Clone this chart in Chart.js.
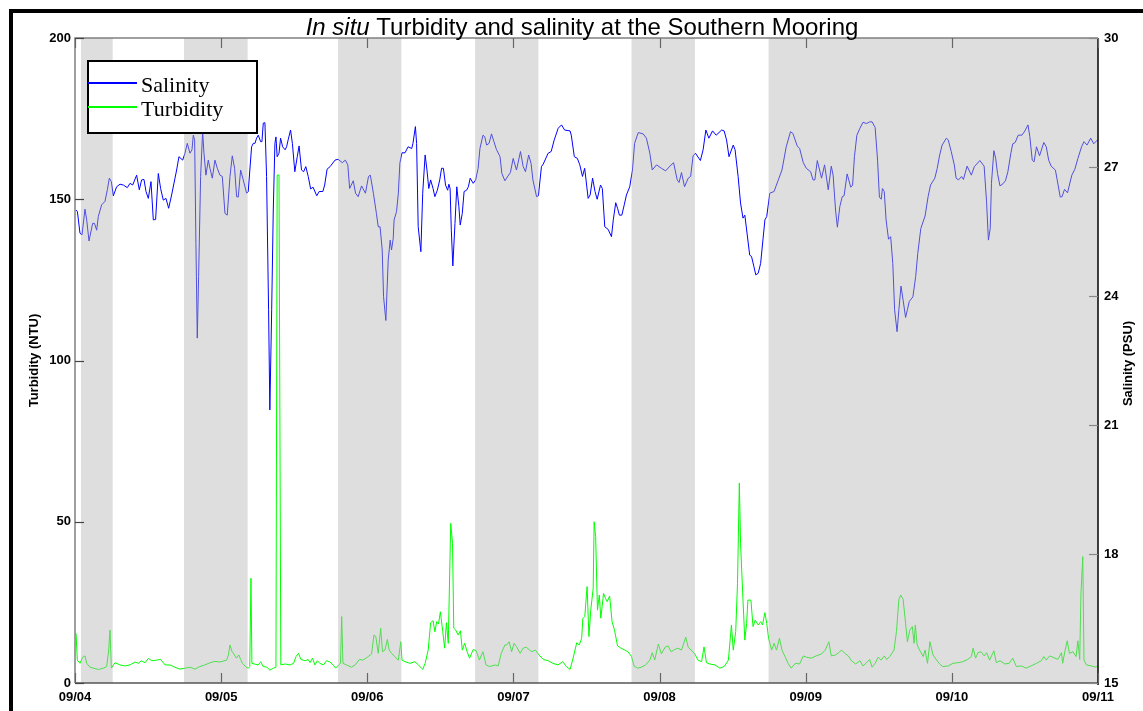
<!DOCTYPE html>
<html>
<head>
<meta charset="utf-8">
<script src="https://cdn.jsdelivr.net/npm/chart.js@4.4.1/dist/chart.umd.min.js"></script>
<style>
html,body{margin:0;padding:0;background:#fff;}
canvas{display:block;}
</style>
</head>
<body>
<canvas id="c" width="1143" height="711"></canvas>
<script>
// ---- DATA (hours since 09/04 00:00) ----
const xTickLabels = ['09/04','09/05','09/06','09/07','09/08','09/09','09/10','09/11'];
const bandStart = [0.98, 17.9, 43.2, 65.7, 91.4, 113.9];
const bandEnd   = [6.19, 28.35, 53.6, 76.1, 101.8, 168];

const salHours = [0.17,0.4,0.82,1.15,1.64,1.92,2.3,2.9,3.2,3.56,3.83,4.38,4.92,5.31,5.64,5.97,6.29,6.84,7.39,7.94,8.59,9.03,9.47,10.12,10.56,10.94,11.33,11.66,12.04,12.48,12.86,13.24,13.68,14.06,14.5,14.94,15.38,15.87,16.42,16.69,17.07,17.68,18.06,18.44,18.88,19.21,19.43,19.65,19.86,20.08,20.3,20.63,20.96,21.18,21.5,21.89,22.16,22.55,22.98,23.37,23.8,24.19,24.63,25,25.45,25.83,26.21,26.54,26.81,27.2,27.63,28.18,28.45,29,29.28,29.55,29.82,30.1,30.48,30.7,30.92,31.19,31.46,31.79,32,32.3,32.56,32.83,33,33.2,33.5,33.76,34.1,34.5,34.75,35,35.4,35.7,36.1,36.5,36.8,37.2,37.55,37.9,38.3,38.7,39.1,39.7,40.1,40.7,41,41.4,41.9,42.7,43.2,43.9,44.4,44.8,45.1,45.7,46.07,46.5,47.06,47.7,48.2,48.5,49,49.5,49.8,50.1,50.45,50.67,51.05,51.44,51.76,51.98,52.26,52.4,52.8,53.1,53.35,53.7,54.2,54.7,55.3,55.5,55.9,56.1,56.36,56.8,57.1,57.5,57.8,58.1,58.4,58.8,59.1,59.5,59.9,60.2,60.5,60.85,61.2,61.4,61.6,61.8,62.05,62.4,62.7,63.04,63.26,63.6,63.9,64.3,64.6,64.9,65.4,65.8,66.2,66.5,67,67.3,67.6,68,68.4,68.8,69.2,69.8,70.1,70.6,71.1,71.5,71.96,72.5,73.16,73.6,73.98,74.5,74.9,75.2,75.8,76.1,76.6,76.9,77.7,78.2,78.7,79.35,79.9,80.4,81.3,81.5,82,82.5,82.9,83.34,83.7,84.27,84.6,85,85.4,85.75,86.3,86.6,87,87.55,88.1,88.4,88.8,89.1,89.4,89.8,90.2,90.56,91.1,91.55,91.9,92.5,93.3,93.84,94.4,94.8,95.5,96.3,97,97.7,98.3,98.9,99.2,99.6,100.1,100.7,101.1,101.5,101.9,102.7,103.15,103.6,104.1,104.7,105.3,106.2,106.6,107,107.4,108.1,108.4,108.9,109.3,109.7,110,110.4,110.8,111.1,111.5,111.8,112.2,112.6,113,113.3,113.6,114.1,114.8,115.5,116.1,116.8,117.5,117.9,118.6,119,119.6,120.1,120.8,121.2,121.5,121.9,122.6,123.1,123.7,124.2,124.5,124.9,125.2,125.6,126,126.3,126.8,127.4,127.7,128,128.4,128.9,129.4,130,130.5,130.9,131.4,131.8,132.1,132.4,132.6,132.9,133.2,133.6,133.95,134.3,134.6,135,135.3,135.65,136,136.4,136.7,137,137.6,138.06,138.4,138.9,139.6,140.1,140.5,141.2,141.6,142,142.4,143.1,143.4,143.9,144.4,144.7,145.1,145.6,145.9,146.5,147.2,147.7,148.6,149.3,149.7,150,150.3,150.5,150.9,151.2,151.5,151.9,152.4,152.8,153.2,153.7,154,154.4,154.9,155.5,156,156.5,156.8,157.2,157.5,157.9,158.4,159.1,159.5,159.9,160.3,161,161.3,161.8,162.1,162.5,163,163.3,163.7,164.2,164.7,165.3,165.7,166.2,166.8,167.3,168];
const salValues = [26.00,25.96,25.46,25.42,26.02,25.77,25.28,25.69,25.69,25.53,25.85,26.12,26.20,26.47,26.74,26.66,26.33,26.54,26.60,26.58,26.52,26.62,26.58,26.81,26.47,26.70,26.71,26.43,26.27,26.66,25.77,25.78,26.85,26.50,26.23,26.27,26.04,26.35,26.74,26.93,27.24,27.16,27.32,27.55,27.32,27.40,27.74,27.62,25.22,23.02,24.45,26.78,27.82,27.32,26.81,27.16,26.97,26.74,27.16,26.97,26.81,26.78,25.92,25.88,26.78,27.26,26.97,26.31,26.30,26.93,26.70,26.39,26.43,27.47,27.55,27.55,27.67,27.74,27.59,27.59,28.02,28.03,26.78,23.68,21.35,23.68,26.00,27.55,27.70,27.24,27.32,27.67,27.47,27.40,27.47,27.63,27.86,27.55,26.89,27.24,27.49,26.93,26.89,27.01,26.78,26.49,26.53,26.33,26.43,26.43,26.58,26.95,27.01,27.16,27.18,27.10,27.16,27.05,26.50,26.68,26.39,26.31,26.56,26.39,26.78,26.81,26.39,25.92,25.61,25.61,25.07,23.99,23.43,24.84,25.30,25.07,25.34,25.77,25.96,26.39,27.09,27.33,27.33,27.47,27.43,27.55,27.94,27.55,25.61,25.03,26.39,27.28,26.93,26.50,26.70,26.50,26.31,26.46,26.70,26.97,26.97,26.58,26.46,26.60,26.50,25.53,24.70,25.69,26.54,26.08,25.65,25.92,26.43,26.46,26.54,26.74,26.62,26.70,26.97,27.43,27.74,27.70,27.51,27.55,27.77,27.59,27.41,27.24,26.85,26.68,26.79,26.87,27.20,26.93,27.36,27.01,26.89,27.28,27.08,26.70,26.31,26.33,27.01,27.07,27.32,27.36,27.63,27.90,27.98,27.86,27.84,27.74,27.24,27.20,27.05,26.78,26.97,26.27,26.35,26.74,26.43,26.25,26.58,26.50,25.61,25.55,25.38,25.77,26.17,26.04,25.88,25.88,26.12,26.35,26.54,26.93,27.55,27.80,27.77,27.67,27.32,26.93,27.05,26.97,26.91,27.02,27.10,26.70,26.64,26.87,26.54,26.74,26.78,27.26,27.32,27.15,27.40,27.86,27.67,27.84,27.74,27.86,27.84,27.63,27.24,27.51,27.40,26.78,26.16,25.81,25.88,25.42,24.95,24.92,24.68,24.49,24.53,24.76,25.34,25.77,25.85,26.39,26.43,26.70,26.93,27.47,27.82,27.78,27.49,27.43,27.10,26.97,26.89,26.70,26.70,27.15,26.74,27.05,26.47,27.02,26.81,26.00,25.60,26.08,26.31,26.33,26.84,26.53,26.58,27.24,27.74,27.90,28.04,28.01,28.05,28.05,27.92,27.16,26.30,26.25,26.50,26.43,25.77,25.32,25.38,24.76,23.68,23.17,23.68,24.23,23.90,23.50,23.68,23.87,23.98,24.45,24.99,25.57,25.86,26.31,26.58,26.74,26.97,27.28,27.51,27.67,27.63,27.36,27.05,26.74,26.70,26.78,26.71,27.02,26.81,27.01,27.15,27.02,26.19,25.30,25.57,26.62,27.38,27.20,26.85,26.56,26.61,26.68,26.89,27.33,27.54,27.57,27.74,27.74,27.84,27.98,27.71,27.16,27.12,27.47,27.26,27.57,27.47,27.16,27.02,26.93,26.70,26.30,26.31,26.48,26.40,26.58,26.81,26.95,27.20,27.47,27.59,27.51,27.67,27.54,27.64];

const turbHours = [0.17,0.38,0.82,1.26,1.64,1.92,2.46,3,3.83,4.65,5.2,5.53,5.75,5.97,6.57,7.39,8.2,9.03,9.85,10.4,10.9,11.5,12.04,12.6,13.4,14.06,14.8,15.6,16.4,17.2,18.1,18.9,19.7,20.5,21.3,22.2,23,23.8,24.9,25.2,25.45,25.8,26.1,26.5,26.9,27.2,27.5,28.1,28.5,28.7,28.9,29.05,29.6,30.1,30.5,30.9,31.5,32,32.6,33,33.2,33.5,33.8,34.5,35.3,35.9,36.3,36.7,37.1,37.8,38.3,38.6,39,39.4,39.8,40.2,40.8,41.3,41.8,42.4,42.8,43.3,43.6,43.8,44,44.6,45.4,46,46.7,47.3,48,48.7,49.1,49.4,49.8,50.2,50.5,50.9,51.3,51.6,52,52.5,53.1,53.5,53.7,54.2,55,55.8,56.4,57.1,57.5,58,58.4,58.8,59.1,59.4,59.7,60,60.4,60.7,61,61.3,61.7,62,62.2,62.5,62.9,63.3,63.6,64,64.4,64.8,65.4,65.9,66.4,67,67.5,68.1,69,69.5,70,70.6,70.9,71.3,71.7,72.1,72.5,73.1,73.6,74.1,75,75.6,76.2,76.9,77.7,78.5,79.3,80.1,80.7,81.3,81.8,82.4,82.8,83.2,83.4,83.72,84.1,84.4,84.7,85.1,85.25,85.5,85.8,86.1,86.35,86.8,87.1,87.4,87.8,88.2,88.6,89.1,89.6,90.3,90.8,91.4,91.8,92.4,93,93.7,94.4,94.8,95.2,95.8,96.3,96.9,97.4,97.9,98.5,99,99.6,100.3,100.7,101.2,101.8,102.3,102.9,103.3,103.7,104.2,105.1,105.9,106.6,107.3,107.8,108.1,108.5,108.8,109.1,109.3,109.7,110,110.3,110.5,111,111.35,111.7,112.2,112.6,112.9,113.3,113.6,113.9,114.4,114.8,115.2,115.7,116.1,116.6,117.1,117.6,118.3,119,119.6,120.1,120.9,121.7,122.6,123.2,123.8,124.2,124.9,125.4,125.9,126.4,127,127.5,128.2,128.9,129.4,129.9,130.5,130.9,131.4,131.9,132.4,132.9,133.3,133.8,134.5,134.9,135.3,135.6,136,136.4,136.7,137.1,137.5,137.8,138,138.3,138.7,139.3,139.6,140,140.4,140.9,141.5,142,142.5,143.4,144.2,145,145.8,146.6,147.2,147.5,147.9,148.3,148.8,149.3,149.7,150.2,150.9,151.3,151.9,152.7,153.4,154,154.6,155.4,156.2,157,157.9,158.7,159.1,159.5,160.05,160.6,161.4,162,162.2,162.6,162.95,163.3,163.9,164.4,164.7,165,165.2,165.5,165.7,166.1,166.9,167.7,168];
const turbValues = [15.4,7.1,6.1,8.0,8.4,6.1,4.9,4.6,4.2,4.6,5.1,10.2,16.4,4.6,6.3,5.6,5.3,5.6,6.5,6.1,6.9,6.3,7.6,6.9,7.1,7.3,5.6,5.6,4.9,4.3,4.6,4.9,4.3,5.1,5.6,6.3,6.7,6.5,7.1,8.7,11.8,9.7,9.0,7.7,8.7,7.3,6.1,4.9,4.6,5.1,32.5,6.1,5.8,5.6,6.6,5.1,4.9,4.0,4.6,4.9,157.5,157.5,5.6,5.9,5.6,6.1,8.2,9.2,7.3,6.9,7.3,6.3,7.7,5.6,6.9,6.1,5.6,6.9,6.6,5.6,4.6,5.6,6.1,20.6,6.1,5.6,4.9,5.6,7.3,7.1,8.0,9.0,14.9,14.4,9.2,17.0,9.7,10.2,13.5,10.2,9.2,8.2,7.1,12.8,7.1,6.6,6.1,6.6,5.6,4.2,6.1,10.2,18.7,19.3,15.9,19.0,18.3,22.1,15.9,10.8,18.7,12.3,49.5,43.3,17.0,16.5,14.9,16.2,10.2,12.3,9.7,7.7,10.4,10.0,7.1,9.7,5.6,5.1,5.6,5.3,9.2,11.8,11.8,12.8,9.7,12.3,11.3,9.2,10.8,11.1,9.7,10.2,8.7,7.3,6.9,6.1,5.6,6.6,5.1,4.2,7.7,12.5,11.8,13.8,20.0,20.6,29.9,14.4,22.6,29.4,50.0,45.4,22.6,27.3,20.1,27.8,26.3,25.2,27.0,19.0,16.4,11.5,10.9,10.2,9.7,8.2,5.3,4.6,4.9,5.6,7.1,9.4,7.1,12.1,9.0,11.1,11.5,9.7,10.4,10.8,10.2,14.2,11.1,10.2,9.0,7.1,6.6,11.2,6.3,5.9,5.6,4.6,5.1,7.1,18.0,10.2,15.9,30.9,62.0,43.3,25.7,13.3,18.5,25.7,25.7,17.5,19.5,18.0,19.0,18.0,21.8,18.5,13.9,10.2,12.3,10.2,13.9,10.2,8.2,6.1,4.6,6.1,5.9,8.4,8.0,7.7,8.4,9.0,10.2,12.8,8.4,8.7,9.4,10.2,9.2,8.4,6.9,5.9,6.9,5.3,6.1,7.3,4.9,6.1,8.0,7.1,8.4,7.3,8.2,10.2,15.9,25.9,27.3,25.9,18.5,12.8,16.4,17.5,12.3,18.0,11.8,10.2,8.2,10.2,6.1,12.8,8.7,7.1,5.9,5.1,5.3,6.1,6.3,6.6,7.3,8.2,10.8,7.7,9.4,9.7,8.4,9.4,7.1,10.0,6.3,6.9,5.9,6.1,7.7,5.1,5.3,4.6,5.3,6.1,6.9,8.2,7.1,8.4,8.0,7.3,9.4,6.1,10.2,13.1,9.2,9.7,8.2,13.1,7.3,27.8,39.2,7.1,5.6,5.3,4.9,5.6];

const TICK_FONT = {family:'"Liberation Sans", Arial, sans-serif', size:13, weight:'bold'};

const overlay = {
  id:'overlay',
  afterDatasetsDraw(chart){
    const {ctx, chartArea:a, scales} = chart;
    const x = scales.x, y = scales.y, y1 = scales.y1;
    ctx.save();
    // shaded bands (semi transparent over lines)
    ctx.fillStyle = 'rgba(180,180,180,0.44)';
    bandStart.forEach((s,i)=>{
      const x0 = x.getPixelForValue(s), x1 = x.getPixelForValue(bandEnd[i]);
      ctx.fillRect(x0, a.top, x1 - x0, a.bottom - a.top);
    });
    // frame
    ctx.lineWidth = 1.5;
    ctx.strokeStyle = '#808080';
    ctx.beginPath(); ctx.moveTo(a.left, a.bottom); ctx.lineTo(a.left, a.top); ctx.lineTo(a.right, a.top); ctx.stroke();
    ctx.strokeStyle = '#555';
    ctx.beginPath(); ctx.moveTo(a.left, a.bottom); ctx.lineTo(a.right, a.bottom); ctx.stroke();
    ctx.strokeStyle = '#000';
    ctx.beginPath(); ctx.moveTo(a.right, a.top); ctx.lineTo(a.right, a.bottom + 2); ctx.stroke();
    // inward ticks
    ctx.lineWidth = 1.2;
    ctx.strokeStyle = '#666';
    x.ticks.forEach(t=>{
      const px = Math.round(x.getPixelForValue(t.value)) + 0.5;
      ctx.beginPath(); ctx.moveTo(px, a.bottom); ctx.lineTo(px, a.bottom - 10); ctx.stroke();
      ctx.beginPath(); ctx.moveTo(px, a.top); ctx.lineTo(px, a.top + 10); ctx.stroke();
    });
    ctx.strokeStyle = '#444';
    y.ticks.forEach(t=>{
      const py = Math.round(y.getPixelForValue(t.value)) + 0.5;
      ctx.beginPath(); ctx.moveTo(a.left, py); ctx.lineTo(a.left + 9, py); ctx.stroke();
    });
    ctx.strokeStyle = '#888';
    y1.ticks.forEach(t=>{
      const py = Math.round(y1.getPixelForValue(t.value)) + 0.5;
      ctx.beginPath(); ctx.moveTo(a.right, py); ctx.lineTo(a.right - 9, py); ctx.stroke();
    });
    // legend
    const lx = 88, ly = 61, lw = 169, lh = 72;
    ctx.fillStyle = '#fff';
    ctx.fillRect(lx, ly, lw, lh);
    ctx.lineWidth = 2;
    ctx.strokeStyle = '#000';
    ctx.strokeRect(lx, ly, lw, lh);
    const rows = [83, 107];
    chart.data.datasets.forEach((ds, i)=>{
      ctx.strokeStyle = ds.borderColor;
      ctx.lineWidth = 2;
      ctx.beginPath(); ctx.moveTo(lx, rows[i]); ctx.lineTo(lx + 49, rows[i]); ctx.stroke();
      ctx.fillStyle = '#000';
      ctx.font = '22px "Liberation Serif", "Times New Roman", serif';
      ctx.textBaseline = 'alphabetic';
      ctx.textAlign = 'left';
      ctx.fillText(ds.label, lx + 53, rows[i] + 8.5);
    });
    ctx.restore();
  },
  afterDraw(chart){
    const {ctx, chartArea:a} = chart;
    ctx.save();
    // title with italic part
    const p1 = 'In situ', p2 = ' Turbidity and salinity at the Southern Mooring';
    const f1 = 'italic 24px "Liberation Sans", Arial, sans-serif';
    const f2 = '24px "Liberation Sans", Arial, sans-serif';
    ctx.font = f1; const w1 = ctx.measureText(p1).width;
    ctx.font = f2; const w2 = ctx.measureText(p2).width;
    const cx = 582;
    let sx = cx - (w1 + w2) / 2;
    ctx.fillStyle = '#000';
    ctx.textBaseline = 'alphabetic';
    ctx.textAlign = 'left';
    ctx.font = f1; ctx.fillText(p1, sx, 35);
    ctx.font = f2; ctx.fillText(p2, sx + w1, 35);
    // axis titles
    ctx.font = 'bold 13px "Liberation Sans", Arial, sans-serif';
    ctx.textAlign = 'center';
    ctx.textBaseline = 'middle';
    ctx.save(); ctx.translate(34, (a.top + a.bottom) / 2); ctx.rotate(-Math.PI / 2); ctx.fillText('Turbidity (NTU)', 0, 0); ctx.restore();
    ctx.save(); ctx.translate(1128, (a.top + a.bottom) / 2 + 3); ctx.rotate(-Math.PI / 2); ctx.fillText('Salinity (PSU)', 0, 0); ctx.restore();
    // outer figure border
    ctx.fillStyle = '#000';
    ctx.fillRect(9, 9, 1134, 4);
    ctx.fillRect(9, 9, 4, 702);
    ctx.restore();
  }
};

new Chart(document.getElementById('c'), {
  type: 'line',
  data: {
    datasets: [
      {label:'Salinity', data: salHours.map((h,i)=>({x:h, y:salValues[i]})), yAxisID:'y1',
       borderColor:'#0000ff', borderWidth:1, pointRadius:0, tension:0, fill:false},
      {label:'Turbidity', data: turbHours.map((h,i)=>({x:h, y:turbValues[i]})), yAxisID:'y',
       borderColor:'#00ff00', borderWidth:1, pointRadius:0, tension:0, fill:false}
    ]
  },
  options: {
    responsive:false, animation:false, devicePixelRatio:1,
    layout:{padding:{top:38, left:0, right:0, bottom:0}},
    plugins:{legend:{display:false}, title:{display:false}, tooltip:{enabled:false}},
    scales:{
      x:{type:'linear', position:'bottom', min:0, max:168,
         grid:{display:false, drawTicks:false}, border:{display:false},
         ticks:{stepSize:24, autoSkip:false, maxRotation:0, padding:7, color:'#000', font:TICK_FONT,
                callback:(v)=>xTickLabels[Math.round(v/24)]},
         afterFit:(s)=>{ s.height = 28; }},
      y:{type:'linear', position:'left', min:0, max:200,
         grid:{display:false, drawTicks:false}, border:{display:false},
         ticks:{stepSize:50, padding:4, color:'#000', font:TICK_FONT},
         afterFit:(s)=>{ s.width = 75; }},
      y1:{type:'linear', position:'right', min:15, max:30,
         grid:{display:false, drawTicks:false}, border:{display:false},
         ticks:{stepSize:3, padding:6, color:'#000', font:TICK_FONT},
         afterFit:(s)=>{ s.width = 45; }}
    }
  },
  plugins:[overlay]
});
</script>
</body>
</html>
